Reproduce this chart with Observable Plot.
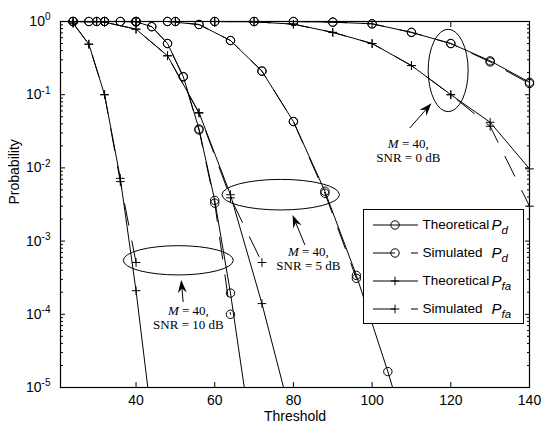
<!DOCTYPE html>
<html>
<head>
<meta charset="utf-8">
<script src="https://cdn.jsdelivr.net/npm/d3@7"></script>
<script src="https://cdn.jsdelivr.net/npm/@observablehq/plot@0.6"></script>
<style>
  body { margin: 0; background: #fff; }
  #wrap { position: relative; width: 541px; height: 430px; overflow: hidden; }
  #legend { position: absolute; left: 363px; top: 209px; width: 159px; height: 113px;
            border: 1.5px solid #000; background: #fff;
            font-family: "Liberation Sans", Arial, sans-serif; font-size: 13.5px; color: #000; }
  .row { position: absolute; left: 0; height: 20px; display: flex; align-items: center; white-space: nowrap; }
  .row svg { margin-left: 8.5px; display: block; }
  .name { display: inline-block; width: 69px; margin-left: 5px; }
  .sym { font-style: italic; font-size: 15px; }
  .sym sub { font-size: 11.5px; font-style: italic; vertical-align: -4px; line-height: 0; }
</style>
</head>
<body>
<div id="wrap"></div>
<script>
// ---------------- data ----------------
// SNR = 10 dB, thresholds every 4
const x10 = [24, 28, 32, 36, 40, 44, 48, 52, 56, 60, 64, 68];
const pd10Theo  = [1, 1, 1, 1, 0.99, 0.85, 0.5, 0.177, 0.034, 0.0036, 1.95e-4, 6.6e-6];
const pd10Sim   = [1, 1, 1, 1, 0.99, 0.85, 0.5, 0.175, 0.033, 0.0033, 1.0e-4, null];
const pfa10Theo = [0.95, 0.49, 0.1, 0.0072, 2.1e-4, 3.6e-6, null, null, null, null, null, null];
const pfa10Sim  = [0.95, 0.49, 0.1, 0.0065, 5.1e-4, null, null, null, null, null, null, null];
// SNR = 5 dB, thresholds every 8
const x5 = [24, 32, 40, 48, 56, 64, 72, 80, 88, 96, 104, 112];
const pd5Theo  = [1, 1, 1, 1, 0.91, 0.55, 0.21, 0.043, 0.0048, 3.4e-4, 1.65e-5, 6e-7];
const pd5Sim   = [1, 1, 1, 1, 0.91, 0.55, 0.21, 0.043, 0.0045, 3.1e-4, null, null];
const pfa5Theo = [1, 0.98, 0.785, 0.34, 0.057, 0.0043, 1.4e-4, 3e-6, null, null, null, null];
const pfa5Sim  = [1, 0.98, 0.785, 0.34, 0.056, 0.0039, 5.1e-4, null, null, null, null, null];
// SNR = 0 dB, thresholds every 10
const x0 = [30, 40, 50, 60, 70, 80, 90, 100, 110, 120, 130, 140];
const pd0Theo  = [1, 1, 1, 1, 1, 1, 0.98, 0.93, 0.71, 0.5, 0.29, 0.148];
const pd0Sim   = [1, 1, 1, 1, 1, 1, 0.98, 0.93, 0.71, 0.5, 0.28, 0.142];
const pfa0Theo = [1, 1, 1, 1, 0.99, 0.92, 0.71, 0.5, 0.25, 0.1, 0.042, 0.0097];
const pfa0Sim  = [1, 1, 1, 1, 0.99, 0.92, 0.71, 0.5, 0.25, 0.1, 0.037, 0.003];

// axes
const xDomain = [20.8, 140];
const yDomain = [1e-5, 1];
const xTicks = [40, 60, 80, 100, 120, 140];
const yTicks = [1e-5, 1e-4, 1e-3, 1e-2, 1e-1, 1];
const yMinor = [];
for (let e = -5; e < 0; e++) for (let m = 2; m <= 9; m++) yMinor.push(m * Math.pow(10, e));
const xLabel = "Threshold";
const yLabel = "Probability";

// annotations
const annoText = ["M = 40,\nSNR = 0 dB", "M = 40,\nSNR = 5 dB", "M = 40,\nSNR = 10 dB"];
const annoX = [109.2, 83.8, 53.3];
const annoY = [0.0173, 5.78e-4, 9.04e-5];
const ellX = [119.45, 76.9, 50.87];
const ellY = [0.211, 0.00424, 5.38e-4];
const ellRx = [5.08, 14.93, 13.97];        // threshold units
const ellRyDecades = [0.563, 0.209, 0.2];  // decades
const arrTailX = [109.7, 83.05, 52.1];
const arrTailY = [0.0345, 8.7e-4, 1.45e-4];
const arrTipX = [115.2, 79.9, 51.6];
const arrTipY = [0.0751, 0.00224, 2.9e-4];

// legend
const legendNames = ["Theoretical", "Simulated", "Theoretical", "Simulated"];
const legendSubs = ["d", "d", "fa", "fa"];
const legendSymbols = ["circle", "circle", "plus", "plus"];
const legendDashed = [false, true, false, true];

// ---------------- chart ----------------
const DASH = "22,16";
const series = [
  {xs: x10, ys: pd10Theo, symbol: "circle", dashed: false},
  {xs: x10, ys: pd10Sim, symbol: "circle", dashed: true},
  {xs: x10, ys: pfa10Theo, symbol: "plus", dashed: false},
  {xs: x10, ys: pfa10Sim, symbol: "plus", dashed: true},
  {xs: x5, ys: pd5Theo, symbol: "circle", dashed: false},
  {xs: x5, ys: pd5Sim, symbol: "circle", dashed: true},
  {xs: x5, ys: pfa5Theo, symbol: "plus", dashed: false},
  {xs: x5, ys: pfa5Sim, symbol: "plus", dashed: true},
  {xs: x0, ys: pd0Theo, symbol: "circle", dashed: false},
  {xs: x0, ys: pd0Sim, symbol: "circle", dashed: true},
  {xs: x0, ys: pfa0Theo, symbol: "plus", dashed: false},
  {xs: x0, ys: pfa0Sim, symbol: "plus", dashed: true}
];

const lineMarks = [], dotMarks = [];
for (const s of series) {
  const pts = s.xs.map((x, i) => ({x, y: s.ys[i]})).filter(d => d.y != null);
  lineMarks.push(Plot.line(pts, {x: "x", y: "y", stroke: "black", strokeWidth: 1,
    strokeDasharray: s.dashed ? DASH : null, clip: true}));
  const vis = pts.filter(d => d.y >= yDomain[0] && d.x >= xDomain[0] && d.x <= xDomain[1]);
  dotMarks.push(Plot.dot(vis, {x: "x", y: "y", symbol: s.symbol, r: s.symbol === "circle" ? 4.2 : 2.9,
    stroke: "black", fill: "none", strokeWidth: 1}));
}

function annotationShapes(index, scales) {
  const g = d3.create("svg:g").attr("fill", "none").attr("stroke", "black");
  for (let i = 0; i < ellX.length; i++) {
    const cx = scales.x(ellX[i]), cy = scales.y(ellY[i]);
    const rx = Math.abs(scales.x(ellX[i] + ellRx[i]) - cx);
    const ry = Math.abs(scales.y(ellY[i] * Math.pow(10, ellRyDecades[i])) - cy);
    g.append("ellipse").attr("cx", cx).attr("cy", cy).attr("rx", rx).attr("ry", ry).attr("stroke-width", 1);
  }
  for (let i = 0; i < arrTailX.length; i++) {
    const x1 = scales.x(arrTailX[i]), y1 = scales.y(arrTailY[i]);
    const x2 = scales.x(arrTipX[i]), y2 = scales.y(arrTipY[i]);
    const a = Math.atan2(y2 - y1, x2 - x1);
    const ux = Math.cos(a), uy = Math.sin(a), px = -uy, py = ux;
    const L = 13, Wd = 4.5, N = 8.5;
    const bx = x2 - ux * L, by = y2 - uy * L, nx = x2 - ux * N, ny = y2 - uy * N;
    g.append("line").attr("x1", x1).attr("y1", y1).attr("x2", nx).attr("y2", ny).attr("stroke-width", 1);
    g.append("path")
      .attr("d", `M${x2},${y2}L${bx + px * Wd},${by + py * Wd}L${nx},${ny}L${bx - px * Wd},${by - py * Wd}Z`)
      .attr("fill", "black").attr("stroke", "none");
  }
  return g.node();
}

const annoRows = annoText.map((t, i) => ({t, x: annoX[i], y: annoY[i]}));
const blank = () => "";

const svg = Plot.plot({
  width: 541,
  height: 430,
  marginLeft: 60,
  marginRight: 12,
  marginTop: 21,
  marginBottom: 43,
  style: {fontFamily: '"Liberation Sans", Arial, sans-serif', fontSize: "14px", color: "black", background: "white"},
  x: {domain: xDomain, label: null},
  y: {type: "log", domain: yDomain, label: null},
  marks: [
    ...lineMarks,
    ...dotMarks,
    Plot.frame({stroke: "black", strokeWidth: 1.2}),
    Plot.axisX(xTicks, {anchor: "bottom", tickSize: -5, tickFormat: blank, label: null}),
    Plot.axisX(xTicks, {anchor: "bottom", tickSize: 0, tickPadding: 8, tickFormat: d => String(d), label: null, fontSize: 14}),
    Plot.axisX(xTicks, {anchor: "top", tickSize: -5, tickFormat: blank, label: null}),
    Plot.axisY(yTicks, {anchor: "left", tickSize: -5, tickPadding: 15, label: null, fontSize: 14,
      tickFormat: d => "10^" + Math.round(Math.log10(d))}),
    Plot.axisY(yMinor, {anchor: "left", tickSize: -3, tickFormat: blank, label: null}),
    Plot.axisY(yTicks, {anchor: "right", tickSize: -5, tickFormat: blank, label: null}),
    Plot.axisY(yMinor, {anchor: "right", tickSize: -3, tickFormat: blank, label: null}),
    Plot.text([xLabel], {text: d => d, frameAnchor: "bottom", dy: 33, fontSize: 14, fill: "black"}),
    Plot.text([yLabel], {text: d => d, frameAnchor: "left", dx: -46, rotate: -90, fontSize: 14, fill: "black"}),
    annotationShapes,
    Plot.text(annoRows, {x: "x", y: "y", text: "t", fontFamily: '"Liberation Serif", "Times New Roman", serif',
      fontSize: 13, lineHeight: 1.08, textAnchor: "middle", fill: "black"})
  ]
});

// superscript exponents on the y tick labels
d3.select(svg).selectAll("text").filter(function() { return /^10\^/.test(this.textContent); })
  .each(function() {
    const exp = this.textContent.replace(/^10\^/, "");
    const s = d3.select(this);
    s.text("");
    s.append("tspan").text("10");
    s.append("tspan").attr("dy", "-0.55em").attr("font-size", "10px").text(exp);
  });
// italic M in annotations
d3.select(svg).selectAll("text, tspan").filter(function() {
  return this.childElementCount === 0 && this.textContent === "M = 40,";
}).each(function() {
  const s = d3.select(this);
  s.text("");
  s.append("tspan").attr("font-style", "italic").text("M");
  s.append("tspan").text(" = 40,");
});

const wrap = document.getElementById("wrap");
wrap.appendChild(svg);

// legend
const legend = document.createElement("div");
legend.id = "legend";
const rowTops = [4.5, 32.5, 60.5, 88.5];
legendNames.forEach((name, i) => {
  const row = document.createElement("div");
  row.className = "row";
  row.style.top = rowTops[i] + "px";
  const dash = legendDashed[i] ? ` stroke-dasharray="${DASH}"` : "";
  const sym = legendSymbols[i] === "circle"
    ? `<circle cx="22" cy="10" r="4.2" fill="none" stroke="#000"/>`
    : `<path d="M17.7,10H26.3M22,5.7V14.3" fill="none" stroke="#000"/>`;
  row.innerHTML = `<svg width="45" height="20"><line x1="0" y1="10" x2="45" y2="10" stroke="#000"${dash}/>${sym}</svg>` +
    `<span class="name">${name}</span><span class="sym">P<sub>${legendSubs[i]}</sub></span>`;
  legend.appendChild(row);
});
wrap.appendChild(legend);
</script>
</body>
</html>
